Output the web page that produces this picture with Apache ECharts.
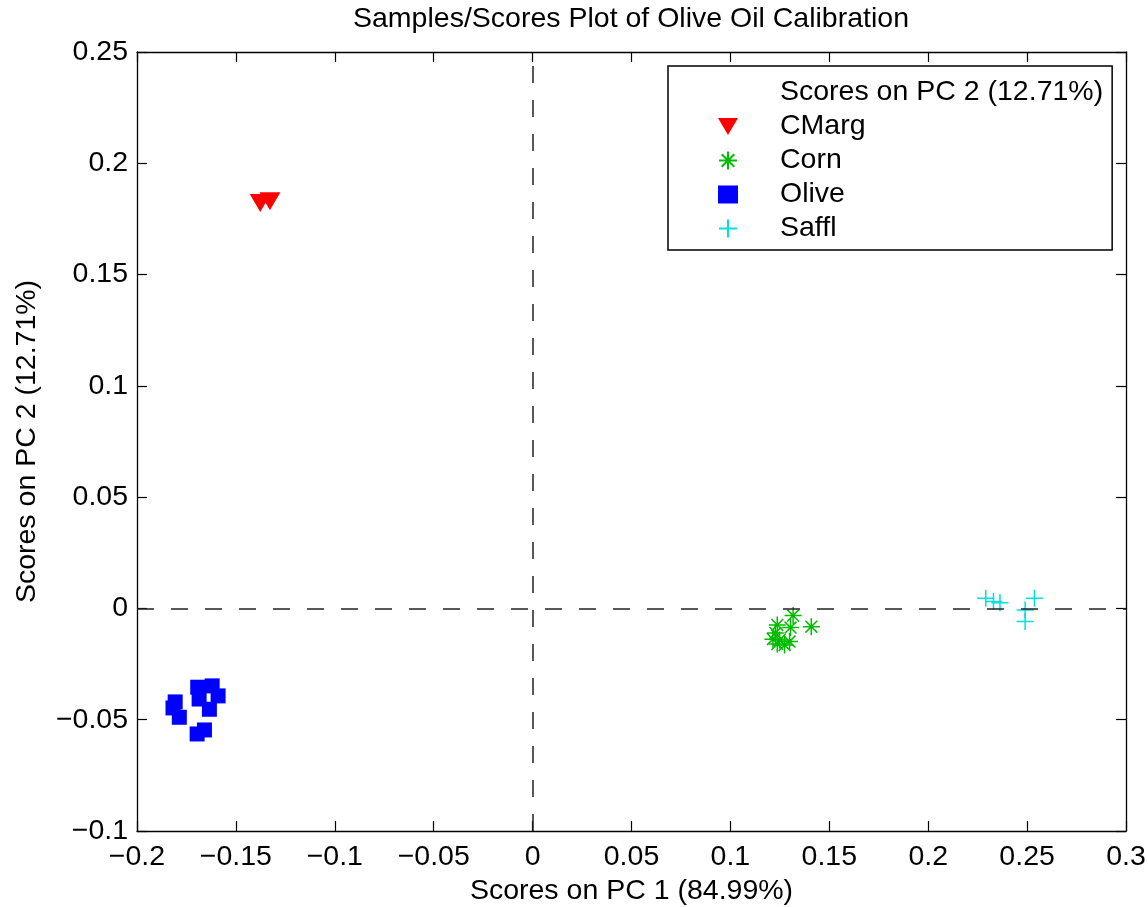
<!DOCTYPE html>
<html>
<head>
<meta charset="utf-8">
<script src="https://cdn.jsdelivr.net/npm/echarts@6/dist/echarts.min.js"></script>
<style>
html,body{margin:0;padding:0;background:#fff;overflow:hidden;}
#chart{width:1148px;height:907px;}
</style>
</head>
<body>
<div id="chart"></div>
<script>
// ---- Data ----
const title = 'Samples/Scores Plot of Olive Oil Calibration';
const xName = 'Scores on PC 1 (84.99%)';
const yName = 'Scores on PC 2 (12.71%)';
const legendHeader = 'Scores on PC 2 (12.71%)';
const seriesNames = ['CMarg', 'Corn', 'Olive', 'Saffl'];

const cmarg = [[-0.1377, 0.1822], [-0.1328, 0.1829]];
const corn = [
  [0.1317, -0.0032], [0.1409, -0.0082], [0.1237, -0.0074], [0.1304, -0.0086],
  [0.1227, -0.0110], [0.1215, -0.0138], [0.1249, -0.0142], [0.1274, -0.0164],
  [0.1299, -0.0149], [0.1237, -0.0160]
];
const olive = [
  [-0.1807, -0.0420], [-0.1818, -0.0447], [-0.1786, -0.0489], [-0.1693, -0.0354],
  [-0.1620, -0.0348], [-0.1590, -0.0393], [-0.1634, -0.0453], [-0.1686, -0.0407],
  [-0.1659, -0.0546], [-0.1696, -0.0564]
];
const saffl = [
  [0.2291, 0.0046], [0.2330, 0.0031], [0.2363, 0.0026], [0.2537, 0.0046],
  [0.2490, -0.0007], [0.2490, -0.0059]
];

const xTicks = [-0.2, -0.15, -0.1, -0.05, 0, 0.05, 0.1, 0.15, 0.2, 0.25, 0.3];
const yTicks = [-0.1, -0.05, 0, 0.05, 0.1, 0.15, 0.2, 0.25];

// ---- Styling ----
const FONT = '"Liberation Sans", Arial, Helvetica, sans-serif';
const FS = 28.5;
const fmt = v => {
  const r = Math.round(v * 1000) / 1000;
  return (r < 0 ? '\u2212' : '') + String(Math.abs(r));
};
const triDown = 'path://M0,0 L20,0 L10,17 Z';
const asterisk = 'path://M0,-10 L0,10 M-10,0 L10,0 M-7,-7 L7,7 M-7,7 L7,-7';
const plus = 'path://M0,-10 L0,10 M-10,0 L10,0';

const axisCommon = (ticks) => ({
  min: ticks[0], max: ticks[ticks.length - 1], interval: 0.05,
  axisLine: {show: true, onZero: false, lineStyle: {color: '#000', width: 1.3}},
  axisTick: {show: true, inside: true, length: 10, lineStyle: {color: '#000', width: 1.2}},
  splitLine: {show: false}
});

const chart = echarts.init(document.getElementById('chart'), null, {renderer: 'canvas'});
chart.setOption({
  animation: false,
  backgroundColor: '#fff',
  textStyle: {fontFamily: FONT},
  title: {
    text: title, left: 626, textAlign: 'center', top: 0,
    textStyle: {fontFamily: FONT, fontSize: FS, fontWeight: 'normal', color: '#000'}
  },
  grid: {left: 137, top: 52, width: 989, height: 779, containLabel: false, outerBoundsMode: 'none'},
  xAxis: [
    Object.assign(axisCommon(xTicks), {
      type: 'value', position: 'bottom',
      name: xName, nameLocation: 'middle', nameGap: 42,
      nameTextStyle: {fontFamily: FONT, fontSize: FS, color: '#000'},
      axisLabel: {color: '#000', fontFamily: FONT, fontSize: FS, margin: 12, formatter: fmt}
    }),
    Object.assign(axisCommon(xTicks), {
      type: 'value', position: 'top', axisLabel: {show: false}
    })
  ],
  yAxis: [
    Object.assign(axisCommon(yTicks), {
      type: 'value', position: 'left',
      name: yName, nameLocation: 'middle', nameGap: 95, nameRotate: 90,
      nameTextStyle: {fontFamily: FONT, fontSize: FS, color: '#000'},
      axisLabel: {color: '#000', fontFamily: FONT, fontSize: FS, margin: 9, formatter: fmt}
    }),
    Object.assign(axisCommon(yTicks), {
      type: 'value', position: 'right', axisLabel: {show: false}
    })
  ],
  legend: {
    orient: 'vertical', left: 668, top: 66,
    padding: [12, 9, 7, 50],
    itemWidth: 20, itemHeight: 18, itemGap: 5,
    borderColor: '#000', borderWidth: 1.5, backgroundColor: '#fff',
    selectedMode: false,
    textStyle: {fontFamily: FONT, fontSize: FS, color: '#000', padding: [0, 0, 0, 37], lineHeight: 26},
    data: [
      {name: legendHeader, icon: 'rect', itemStyle: {color: 'rgba(0,0,0,0)', borderWidth: 0}},
      'CMarg', 'Corn', 'Olive', 'Saffl'
    ]
  },
  series: [
    {
      name: legendHeader, type: 'line', data: [], showSymbol: false,
      lineStyle: {opacity: 0}
    },
    {
      name: 'CMarg', type: 'scatter', data: cmarg, z: 3,
      symbol: triDown, symbolSize: [21, 18],
      itemStyle: {color: '#ff0000', opacity: 1},
      markLine: {
        silent: true, symbol: 'none', label: {show: false},
        lineStyle: {color: '#222', type: [17, 17], width: 1.5},
        emphasis: {disabled: true},
        data: [{xAxis: 0}, {yAxis: 0}]
      }
    },
    {
      name: 'Corn', type: 'scatter', data: corn, z: 3,
      symbol: asterisk, symbolSize: 17,
      itemStyle: {color: '#00bb00', borderColor: '#00bb00', borderWidth: 1.5, opacity: 1}
    },
    {
      name: 'Olive', type: 'scatter', data: olive, z: 3,
      symbol: 'rect', symbolSize: 15,
      itemStyle: {color: '#0000ff', opacity: 1}
    },
    {
      name: 'Saffl', type: 'scatter', data: saffl, z: 3,
      symbol: plus, symbolSize: 17,
      itemStyle: {color: '#00e0e0', borderColor: '#00e0e0', borderWidth: 1.5, opacity: 1}
    }
  ]
});
</script>
</body>
</html>
